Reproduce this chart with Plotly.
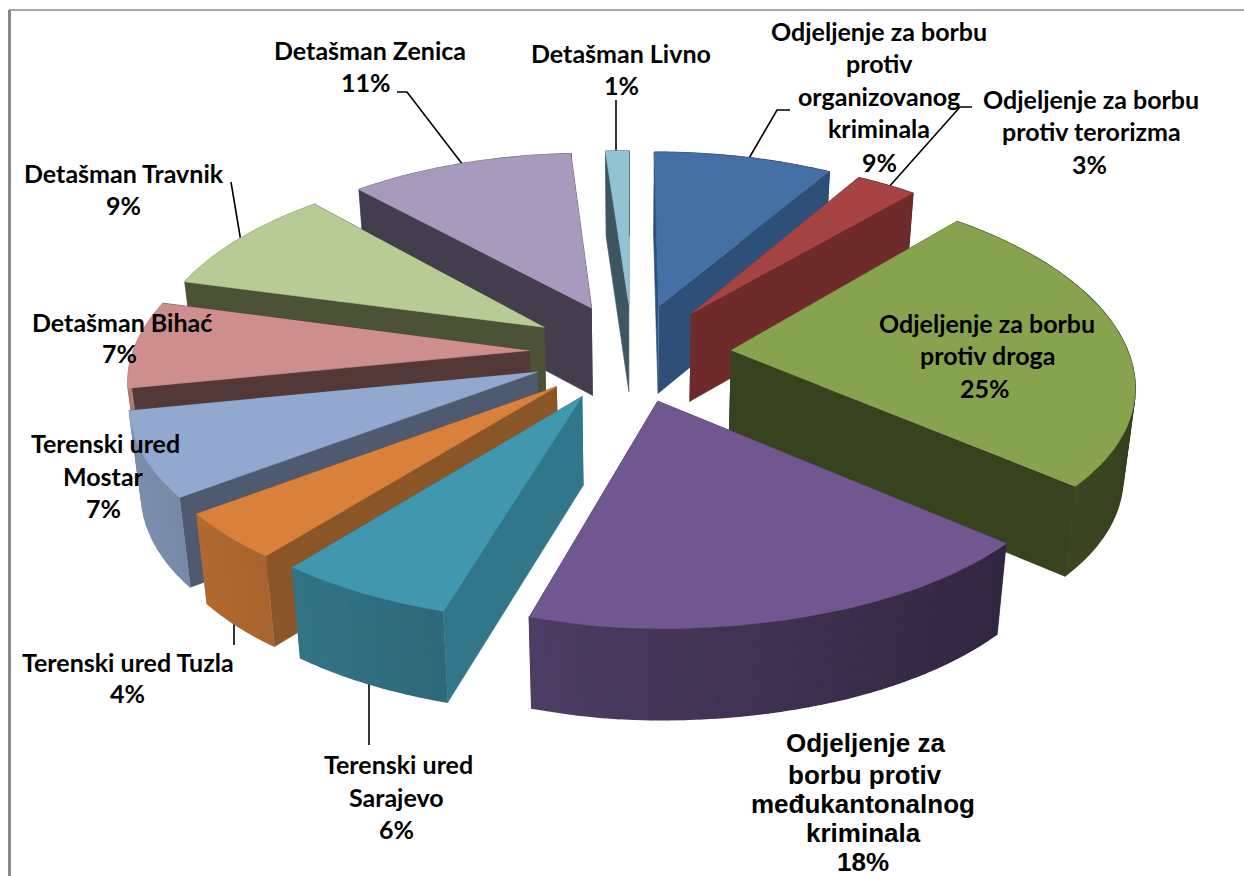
import numpy as np
import plotly.graph_objects as go

categories = ["Odjeljenje za borbu protiv organizovanog kriminala",
              "Odjeljenje za borbu protiv terorizma",
              "Odjeljenje za borbu protiv droga",
              "Odjeljenje za borbu protiv međukantonalnog kriminala",
              "Terenski ured Sarajevo", "Terenski ured Tuzla", "Terenski ured Mostar",
              "Detašman Bihać", "Detašman Travnik", "Detašman Zenica", "Detašman Livno"]
values = [9, 3, 25, 18, 6, 4, 7, 7, 9, 11, 1]

top_colors = ["#4470A5", "#A64443", "#88A34E", "#705790", "#4097AE", "#D9813B",
              "#92A8CE", "#CE8E8D", "#B7CC94", "#A89ABC", "#91C3D5"]
wall_colors = ["#2E5078", "#6F2B2B", "#37421E", "#3A2C4C", "#327789", "#8A5628",
               "#4F5A70", "#533838", "#4C5236", "#433D4E", "#3E5660"]

# label text lines: (x centre, y centre, text, font family)
LATO = "Lato, Carlito, sans-serif"
ARIAL = "Liberation Sans, Arial, sans-serif"
label_lines = [
    (621, 53, "Detašman Livno", LATO), (621, 85, "1%", LATO),
    (879, 31, "Odjeljenje za borbu", LATO), (879, 63, "protiv", LATO),
    (879, 96, "organizovanog", LATO), (879, 128, "kriminala", LATO), (879, 162, "9%", LATO),
    (1091, 99, "Odjeljenje za borbu", LATO), (1091, 131, "protiv terorizma", LATO), (1089, 164, "3%", LATO),
    (987, 323, "Odjeljenje za borbu", LATO), (987, 355, "protiv droga", LATO), (985, 388, "25%", LATO),
    (865, 743, "Odjeljenje za", ARIAL), (865, 775, "borbu protiv", ARIAL),
    (863, 804, "međukantonalnog", ARIAL), (863, 833, "kriminala", ARIAL), (863, 862, "18%", ARIAL),
    (398, 764, "Terenski ured", LATO), (396, 797, "Sarajevo", LATO), (396, 829, "6%", LATO),
    (128, 662, "Terenski ured Tuzla", LATO), (127, 693, "4%", LATO),
    (105, 443, "Terenski ured", LATO), (103, 476, "Mostar", LATO), (103, 508, "7%", LATO),
    (122, 322, "Detašman Bihać", LATO), (119, 353, "7%", LATO),
    (124, 173, "Detašman Travnik", LATO), (123, 205, "9%", LATO),
    (370, 50, "Detašman Zenica", LATO), (366, 82, "11%", LATO),
]
leaders = [
    ([397, 407, 463], [92, 92, 165]),
    ([231, 241], [182, 242]),
    ([616, 616], [100, 155]),
    ([790, 777, 748], [110, 110, 160]),
    ([972, 960, 888], [107, 107, 188]),
    ([234, 234], [610, 645]),
    ([369, 369], [670, 745]),
]

# projection parameters of the tilted pie
CX, CY, RX, RY = 632, 352, 397, 198
KX, KY_BACK, KY_FRONT, EXPLODE, DEPTH = 0.16, 0.15, 0.10, 0.25, 88
WARP, TAPER, CONVERGE = np.radians(3.5), np.radians(20), 0.024
SHIFT0, SHIFT_BACK, SHIFT_FRONT = -3.0, -7.0, -12.0


def project(X, Y, z=0.0):
    X, Y = np.asarray(X, float), np.asarray(Y, float)
    x = CX + RX * X * (1 - KX * Y)
    # the left half of the pie leans slightly with depth
    x = x + np.clip(-X / 0.2, 0, 1) * (SHIFT0 + np.where(Y > 0, SHIFT_BACK, SHIFT_FRONT) * Y)
    ky = np.where(Y > 0, KY_BACK, KY_FRONT)
    y = CY - RY * Y * (1 - ky * Y) + z * (1 - 0.03 * Y)
    x = CX + (x - CX) * (1 - CONVERGE * z / DEPTH)
    return x, y


def warp(a):
    taper = np.where(a <= np.pi, 1.0, np.clip(1 - (a - np.pi) / TAPER, 0, 1))
    return a - WARP * (1 - np.cos(a)) / 2 * taper


def poly(fig, xs, ys, color, lw=0.6):
    fig.add_trace(go.Scatter(x=list(xs), y=list(ys), mode="lines", fill="toself",
                             fillcolor=color, line=dict(color=color, width=lw),
                             hoverinfo="skip", showlegend=False))


def shade(hexcol, f):
    r, g, b = (int(hexcol[i:i + 2], 16) for i in (1, 3, 5))
    return f"rgb({r * f:.0f},{g * f:.0f},{b * f:.0f})"


fig = go.Figure()

for lx, ly in leaders:
    fig.add_trace(go.Scatter(x=lx, y=ly, mode="lines", line=dict(color="#000", width=1.6),
                             hoverinfo="skip", showlegend=False))

total = sum(values)
edges = np.cumsum([0] + values) / total * 2 * np.pi
slices = []
for i in range(len(values)):
    a0, a1 = edges[i], edges[i + 1]
    mid = (a0 + a1) / 2
    slices.append((np.cos(mid), i, a0, a1, mid))

for _, i, a0, a1, mid in sorted(slices, key=lambda s: -s[0]):
    ox, oy = EXPLODE * np.sin(mid), EXPLODE * np.cos(mid)
    n = max(3, int((a1 - a0) / 0.03))
    ang = warp(np.linspace(a0, a1, n + 1))
    RXs, RYs = ox + np.sin(ang), oy + np.cos(ang)
    px, py = project(RXs, RYs)
    pxb, pyb = project(RXs, RYs, DEPTH)
    ax, ay = project(ox, oy)
    axb, ayb = project(ox, oy, DEPTH)
    faces = []
    for k in (0, n):
        faces.append(((oy + RYs[k]) / 2, [ax, px[k], pxb[k], axb], [ay, py[k], pyb[k], ayb], wall_colors[i], 0.6))
    for k in range(n):
        m = (ang[k] + ang[k + 1]) / 2
        f = 0.62 - 0.24 * np.sin(m)
        faces.append(((RYs[k] + RYs[k + 1]) / 2, [px[k], px[k + 1], pxb[k + 1], pxb[k]],
                      [py[k], py[k + 1], pyb[k + 1], pyb[k]], shade(top_colors[i], f), 1.4))
    for _, fx, fy, c, lw in sorted(faces, key=lambda t: -t[0]):
        poly(fig, fx, fy, c, lw)
    poly(fig, [ax, *px], [ay, *py], top_colors[i])

for x, y, t, fam in label_lines:
    fig.add_annotation(x=x, y=y, text=f"<b>{t}</b>", showarrow=False, xanchor="center", yanchor="middle",
                       font=dict(family=fam, size=26 if fam == ARIAL else 25, color="#000"))

# frame
fig.add_shape(type="line", x0=9.5, x1=9.5, y0=10, y1=876, line=dict(color="#888", width=3))
fig.add_shape(type="line", x0=9, x1=1244, y0=10, y1=10, line=dict(color="#888", width=1.5))

fig.update_layout(width=1244, height=876, margin=dict(l=0, r=0, t=0, b=0), autosize=False,
                  paper_bgcolor="#fff", plot_bgcolor="#fff",
                  xaxis=dict(range=[0, 1244], visible=False, fixedrange=True),
                  yaxis=dict(range=[876, 0], visible=False, fixedrange=True))
fig.write_html("out.html", config={"displayModeBar": False},
               post_script="document.body.style.margin='0';document.documentElement.style.overflow='hidden';")
